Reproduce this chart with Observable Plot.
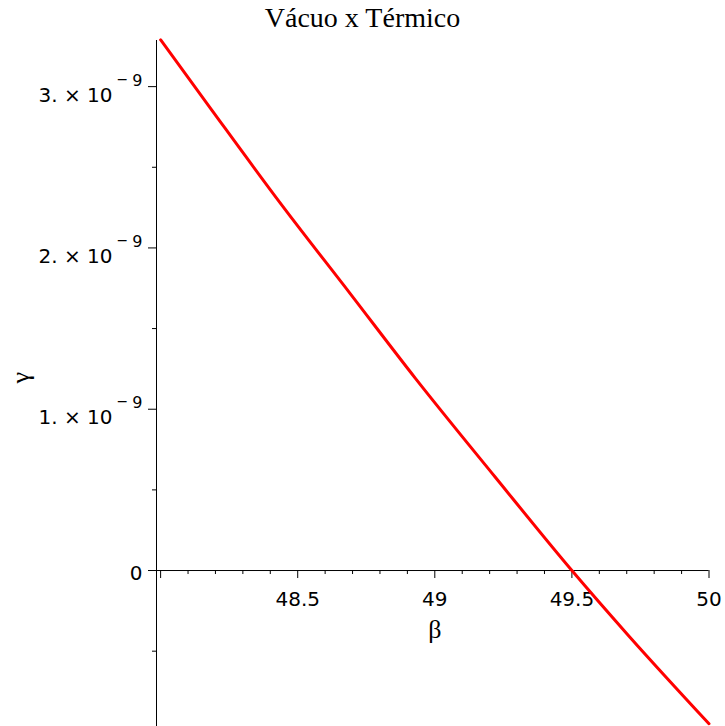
<!DOCTYPE html>
<html>
<head>
<meta charset="utf-8">
<script src="https://cdn.jsdelivr.net/npm/d3@7"></script>
<script src="https://cdn.jsdelivr.net/npm/@observablehq/plot@0.6"></script>
<style>
  body { margin: 0; background: #fff; }
  #chart { position: relative; width: 725px; height: 726px; }
  #title {
    position: absolute; left: 0; top: 4px; width: 725px;
    text-align: center; font: 28px/28px "Liberation Serif", serif; color: #000;
  }
</style>
</head>
<body>
<div id="chart"><div id="title">Vácuo x Térmico</div></div>
<script>
// γ as a function of β
const beta  = [48.0, 48.18, 48.44, 48.69, 48.93, 49.22, 49.5, 49.71, 50.0];
const gamma = [3.29e-9, 2.87e-9, 2.27e-9, 1.72e-9, 1.19e-9, 0.58e-9, 0, -0.41e-9, -0.95e-9];

// axis ticks
const xMajor = [48, 48.5, 49, 49.5, 50];
const xMajorLabels = ["", "48.5", "49", "49.5", "50"];
const xMinor = [48.1, 48.2, 48.3, 48.4, 48.6, 48.7, 48.8, 48.9,
                49.1, 49.2, 49.3, 49.4, 49.6, 49.7, 49.8, 49.9];
const yMajor = [0, 1e-9, 2e-9, 3e-9];
const yMinor = [-0.5e-9, 0.5e-9, 1.5e-9, 2.5e-9];

const xDomain = [47.985, 50];
const yDomain = [-0.967e-9, 3.286e-9];

const data = beta.map((b, i) => ({beta: b, gamma: gamma[i]}));
const xTickRows = xMajor.map((v, i) => ({v, label: xMajorLabels[i]}));

// "3. × 10^-9" style labels; exponent split into a superscript afterwards
const fmtY = v => {
  if (v === 0) return "0";
  const m = Math.round(v / 1e-9);
  return `${m}. × 10^-9`;
};

const serif = "Liberation Serif";

const chart = Plot.plot({
  width: 725,
  height: 726,
  marginTop: 40,
  marginBottom: 0,
  marginLeft: 156,
  marginRight: 16.5,
  x: {domain: xDomain, axis: null},
  y: {domain: yDomain},
  style: {fontFamily: "DejaVu Sans", fontSize: "20px", color: "#000", background: "#fff"},
  marks: [
    // axis lines (y axis at left of frame, x axis through γ = 0)
    Plot.ruleX([xDomain[0]], {stroke: "#000"}),
    Plot.ruleY([0], {stroke: "#000"}),
    // x ticks hanging below the axis
    Plot.ruleX(xMajor, {x: d => d, y1: 0, y2: 0, insetBottom: -8, stroke: "#000"}),
    Plot.ruleX(xMinor, {x: d => d, y1: 0, y2: 0, insetBottom: -4, stroke: "#000"}),
    Plot.text(xTickRows, {x: "v", y: 0, text: "label", dy: 35, lineAnchor: "bottom", fill: "#000"}),
    // y ticks
    Plot.axisY({ticks: yMajor, tickSize: 8, tickPadding: 6, tickFormat: fmtY, label: null}),
    Plot.axisY({ticks: yMinor, tickSize: 4, tickFormat: () => "", label: null}),
    // curve
    Plot.line(data, {x: "beta", y: "gamma", stroke: "#ff0000", strokeWidth: 3, curve: "monotone-x"}),
    // axis titles
    Plot.text(["β"], {frameAnchor: "bottom", dx: 2, dy: -89, lineAnchor: "bottom",
                      fontFamily: serif, fontSize: 26, fill: "#000"}),
    Plot.text(["γ"], {frameAnchor: "left", dx: -136, rotate: -90,
                      fontFamily: serif, fontSize: 26, fill: "#000"})
  ]
});

// build superscript exponents on the y tick labels
chart.querySelectorAll('[aria-label="y-axis tick label"] text').forEach(t => {
  const s = t.textContent;
  const m = s.match(/^(.*)\^-(\d+)$/);
  t.removeAttribute("dy");
  if (!m) { t.setAttribute("y", "9"); return; }
  t.textContent = "";
  const ns = "http://www.w3.org/2000/svg";
  const base = document.createElementNS(ns, "tspan");
  base.textContent = m[1];
  const minus = document.createElementNS(ns, "tspan");
  minus.textContent = "\u2212";
  minus.setAttribute("font-size", "14");
  minus.setAttribute("dx", "4");
  minus.setAttribute("dy", "-18");
  const exp = document.createElementNS(ns, "tspan");
  exp.textContent = m[2];
  exp.setAttribute("font-size", "16");
  exp.setAttribute("dx", "4");
  exp.setAttribute("dy", "2");
  t.append(base, minus, exp);
  t.setAttribute("y", "15");
});

document.getElementById("chart").appendChild(chart);
</script>
</body>
</html>
